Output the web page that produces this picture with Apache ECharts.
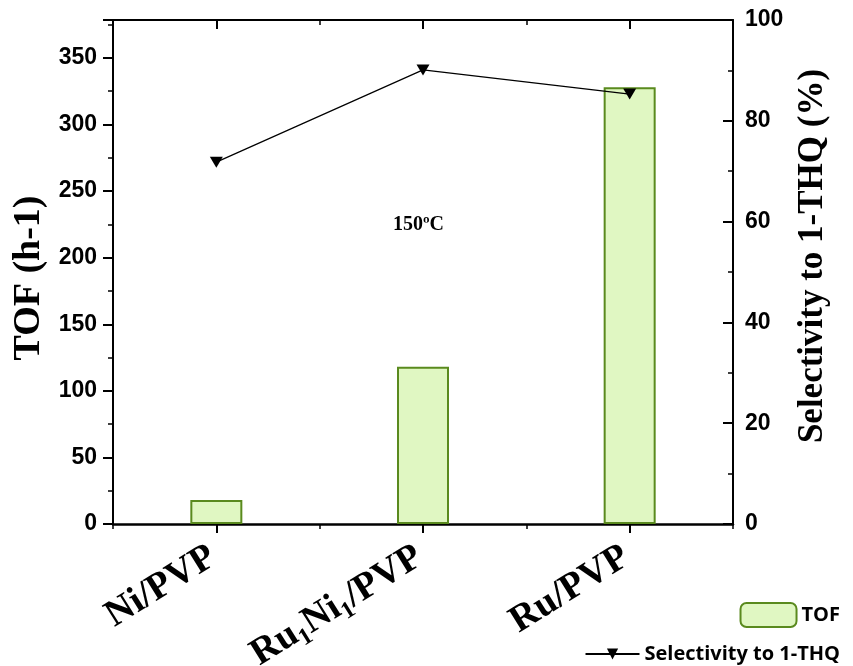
<!DOCTYPE html>
<html>
<head>
<meta charset="utf-8">
<script src="https://cdn.jsdelivr.net/npm/echarts@6/dist/echarts.min.js"></script>
<style>html,body{margin:0;padding:0;background:#fff;}#c{width:853px;height:666px;}</style>
</head>
<body>
<div id="c"></div>
<script>
var categories = ['Ni/PVP', 'Ru1Ni1/PVP', 'Ru/PVP'];
var tofValues = [18, 118, 328];
var selectivityValues = [71.8, 90.1, 85.3];
var leftTicks = [0, 50, 100, 150, 200, 250, 300, 350];
var rightTicks = [0, 20, 40, 60, 80, 100];
var annotation = '150\u00baC';

var chart = echarts.init(document.getElementById('c'));
var tickFont = { fontFamily: 'Liberation Sans, Arial, sans-serif', fontWeight: 'bold', fontSize: 23, color: '#000' };
function subFmt(v) { return v.replace(/(\d)/g, '{sub|$1}'); }
var grid = { left: 113, right: 120, top: 20, bottom: 142, containLabel: false, outerBoundsMode: 'none' };
var lineStyle = { color: '#000', width: 2 };

var option = {
  animation: false,
  backgroundColor: '#fff',
  grid: grid,
  xAxis: [
    {
      type: 'category', data: categories, position: 'bottom', boundaryGap: true,
      axisLine: { show: true, lineStyle: { color: '#000', width: 2.5 } },
      axisTick: { show: true, alignWithLabel: true, length: 9, inside: false, lineStyle: { color: '#000', width: 2 } },
      axisLabel: {
        rotate: 32, margin: 28, formatter: subFmt, padding: [0, 4, 0, 0],
        fontFamily: 'Liberation Serif, Times New Roman, serif', fontWeight: 'bold', fontSize: 38, color: '#000',
        rich: { sub: { fontFamily: 'Liberation Serif, serif', fontWeight: 'bold', fontSize: 24, color: '#000', verticalAlign: 'bottom', padding: [21, 0, 0, 0] } }
      },
      splitLine: { show: false }
    },
    {
      type: 'category', data: categories, position: 'bottom', boundaryGap: true,
      axisLine: { show: false },
      axisTick: { show: true, alignWithLabel: false, length: 5, lineStyle: { color: '#000', width: 1.5 } },
      axisLabel: { show: false }, splitLine: { show: false }
    },
    {
      type: 'category', data: categories, position: 'top', boundaryGap: true,
      axisLine: { show: true, lineStyle: lineStyle },
      axisTick: { show: true, alignWithLabel: true, inside: true, length: 9, lineStyle: { color: '#000', width: 2 } },
      axisLabel: { show: false }, splitLine: { show: false }
    },
    {
      type: 'category', data: categories, position: 'top', boundaryGap: true,
      axisLine: { show: false },
      axisTick: { show: true, alignWithLabel: false, inside: true, length: 5, lineStyle: { color: '#000', width: 1.5 } },
      axisLabel: { show: false }, splitLine: { show: false }
    }
  ],
  yAxis: [
    {
      type: 'value', min: 0, max: 378.5, interval: 50, position: 'left',
      name: 'TOF (h-1)', nameLocation: 'middle', nameGap: 63, nameRotate: 90,
      nameTextStyle: { fontFamily: 'Liberation Serif, Times New Roman, serif', fontWeight: 'bold', fontSize: 38, color: '#000', padding: [0, 12, 0, 0] },
      axisLine: { show: true, lineStyle: lineStyle },
      axisTick: { show: true, inside: false, length: 10, lineStyle: { color: '#000', width: 2 } },
      minorTick: { show: true, splitNumber: 2, length: 5, lineStyle: { color: '#000', width: 1.5 } },
      axisLabel: Object.assign({ margin: 16, showMaxLabel: false,
        formatter: function (v) { return leftTicks.indexOf(v) >= 0 ? String(v) : ''; } }, tickFont),
      splitLine: { show: false }
    },
    {
      type: 'value', min: 0, max: 100, interval: 20, position: 'right',
      name: 'Selectivity to 1-THQ (%)', nameLocation: 'middle', nameGap: 62, nameRotate: 90,
      nameTextStyle: { fontFamily: 'Liberation Serif, Times New Roman, serif', fontWeight: 'bold', fontSize: 35, color: '#000', padding: [0, 0, 0, 32] },
      axisLine: { show: true, lineStyle: lineStyle },
      axisTick: { show: true, inside: true, length: 10, lineStyle: { color: '#000', width: 2 } },
      minorTick: { show: true, splitNumber: 2, length: 5, lineStyle: { color: '#000', width: 1.5 } },
      axisLabel: Object.assign({ margin: 12, inside: false,
        formatter: function (v) { return rightTicks.indexOf(v) >= 0 ? String(v) : ''; } }, tickFont),
      splitLine: { show: false }
    }
  ],
  legend: [
    {
      data: ['TOF'], right: 8, top: 597, itemWidth: 56, itemHeight: 24, itemGap: 8,
      textStyle: { fontFamily: 'Open Sans, Liberation Sans, sans-serif', fontWeight: 'bold', fontSize: 20, color: '#000' }
    },
    {
      data: ['Selectivity to 1-THQ'], right: 8, top: 639, itemWidth: 54, itemHeight: 14, itemGap: 8,
      textStyle: { fontFamily: 'Open Sans, Liberation Sans, sans-serif', fontWeight: 'bold', fontSize: 20, color: '#000' }
    }
  ],
  graphic: [
    {
      type: 'text', left: 393, top: 215,
      style: { text: annotation, fontFamily: 'Liberation Serif, Times New Roman, serif', fontWeight: 'bold', fontSize: 20, fill: '#000' }
    }
  ],
  series: [
    {
      name: 'TOF', type: 'bar', xAxisIndex: 0, yAxisIndex: 0, data: tofValues, barWidth: 52,
      itemStyle: { color: '#e0f7c2', borderColor: '#5a8a1e', borderWidth: 2 }
    },
    {
      name: 'Selectivity to 1-THQ', type: 'line', xAxisIndex: 0, yAxisIndex: 1, data: selectivityValues,
      symbol: 'triangle', symbolRotate: 180, symbolSize: [13, 11],
      lineStyle: { color: '#000', width: 1.2 }, itemStyle: { color: '#000' }, z: 5
    }
  ]
};
chart.setOption(option);
</script>
</body>
</html>
